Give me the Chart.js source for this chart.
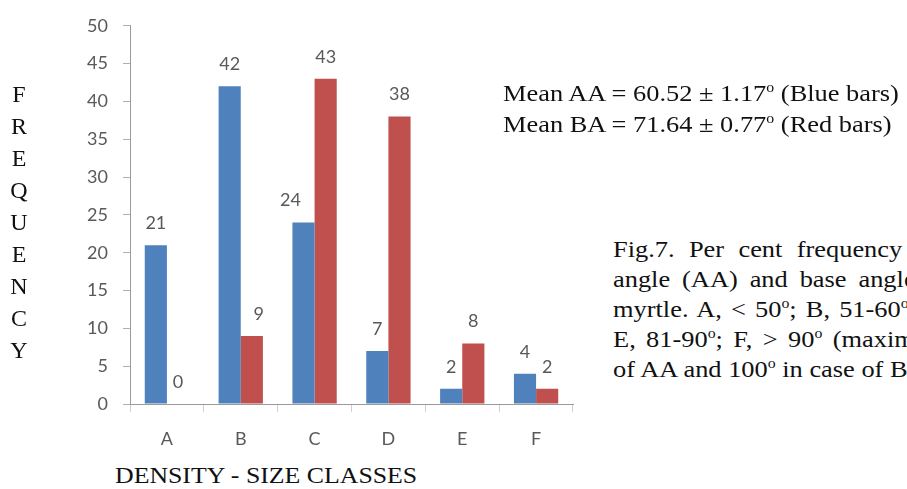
<!DOCTYPE html>
<html>
<head>
<meta charset="utf-8">
<script src="https://cdn.jsdelivr.net/npm/chart.js@4"></script>
<style>
    html, body { margin: 0; padding: 0; background: #fff; }
    body { width: 907px; height: 489px; position: relative; overflow: hidden; }
    #chartBox { position: absolute; left: 0; top: 0; width: 600px; height: 460px; }
    .serif { position: absolute; font-family: "Liberation Serif", "Times New Roman", serif; font-size: 24px; color: #111; white-space: nowrap; transform-origin: left top; }
    .serif sup { font-size: 0.6em; line-height: 0; vertical-align: 0.6em; }
    #yTitle { left: -1px; top: 78px; width: 40px; text-align: center; line-height: 32px; }
    #xTitle { left: 115px; top: 460px; line-height: 30px; transform: scaleX(1.075); }
    #means { left: 503px; top: 78px; line-height: 31px; transform: scaleX(1.1); }
    #caption { left: 613px; top: 234px; line-height: 30px; transform: scaleX(1.1); }
</style>
</head>
<body>
<div id="chartBox"><canvas id="freqChart" width="600" height="460"></canvas></div>

<div class="serif" id="yTitle">F<br>R<br>E<br>Q<br>U<br>E<br>N<br>C<br>Y</div>
<div class="serif" id="xTitle">DENSITY - SIZE CLASSES</div>
<div class="serif" id="means">
    <div>Mean AA = 60.52 &plusmn; 1.17<sup>o</sup> (Blue bars)</div>
    <div>Mean BA = 71.64 &plusmn; 0.77<sup>o</sup> (Red bars)</div>
</div>
<div class="serif" id="caption">
    <div style="word-spacing: 7px;">Fig.7. Per cent frequency</div>
    <div style="word-spacing: 4.8px;">angle (AA) and base angle</div>
    <div style="word-spacing: 2.3px;">myrtle. A, &lt; 50<sup>o</sup>; B, 51-60<sup>o</sup>;</div>
    <div style="word-spacing: 3.4px;">E, 81-90<sup>o</sup>; F, &gt; 90<sup>o</sup> (maximum</div>
    <div>of AA and 100<sup>o</sup> in case of BA)</div>
</div>

<script>
// data
const classes = ['A', 'B', 'C', 'D', 'E', 'F'];
const apexAngle = [21, 42, 24, 7, 2, 4];   // blue bars (AA)
const baseAngle = [0, 9, 43, 38, 8, 2];    // red bars (BA)
const yTicks = [0, 5, 10, 15, 20, 25, 30, 35, 40, 45, 50];

const tickFont = { family: 'Lato, "Open Sans", sans-serif', size: 18 };
const tickColor = '#595959';

// value labels above each bar (a couple are nudged sideways like in the original)
const barValueLabels = {
    id: 'barValueLabels',
    afterDatasetsDraw(chart) {
        const ctx = chart.ctx;
        const nudge = { '0-2': -13, '1-1': 7 };
        ctx.save();
        ctx.font = tickFont.size + 'px ' + tickFont.family;
        ctx.fillStyle = tickColor;
        ctx.textAlign = 'center';
        ctx.textBaseline = 'middle';
        chart.data.datasets.forEach((ds, di) => {
            chart.getDatasetMeta(di).data.forEach((bar, i) => {
                const dx = nudge[di + '-' + i] || 0;
                ctx.fillText(String(ds.data[i]), bar.x + dx, bar.y - 22);
            });
        });
        ctx.restore();
    }
};

document.addEventListener('DOMContentLoaded', function () {
    const ctx = document.getElementById('freqChart').getContext('2d');
    new Chart(ctx, {
        type: 'bar',
        data: {
            labels: classes,
            datasets: [{
                label: 'AA',
                data: apexAngle,
                backgroundColor: '#4F81BD'
            }, {
                label: 'BA',
                data: baseAngle,
                backgroundColor: '#C0504D'
            }]
        },
        options: {
            responsive: false,
            animation: false,
            categoryPercentage: 0.6,
            barPercentage: 1.0,
            layout: { padding: { top: 24, right: 27, bottom: 0, left: 0 } },
            plugins: {
                legend: { display: false },
                tooltip: { enabled: false }
            },
            scales: {
                x: {
                    grid: { offset: true, drawOnChartArea: false, drawTicks: true, tickLength: 8, color: '#d0d0d0' },
                    border: { display: true, color: '#9a9a9a' },
                    ticks: { font: tickFont, color: tickColor, padding: 16 },
                    afterFit: s => { s.height = 56; }
                },
                y: {
                    min: 0,
                    max: 50,
                    afterBuildTicks: s => { s.ticks = yTicks.map(v => ({ value: v })); },
                    grid: { drawOnChartArea: false, drawTicks: true, tickLength: 7, color: '#b0b0b0' },
                    border: { display: true, color: '#9a9a9a' },
                    ticks: { font: tickFont, color: tickColor, padding: 15 },
                    afterFit: s => { s.width = 130; }
                }
            }
        },
        plugins: [barValueLabels]
    });
});
</script>
</body>
</html>
